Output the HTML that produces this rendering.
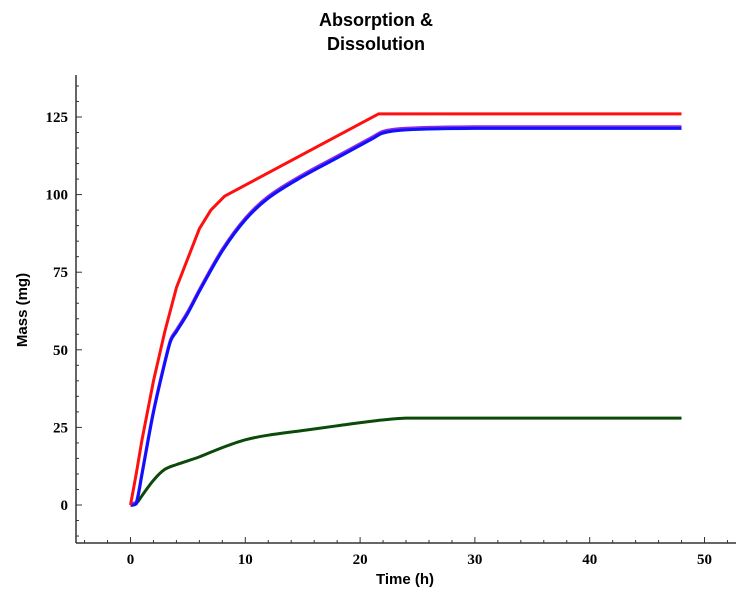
<!DOCTYPE html>
<html><head><meta charset="utf-8"><style>
body{margin:0;background:#fff;}
svg{display:block;font-family:"Liberation Sans",sans-serif;}
</style></head><body>
<svg id="chart" width="750" height="598">
<text x="376" y="26" text-anchor="middle" font-weight="bold" font-size="18">Absorption &amp;</text>
<text x="376" y="50" text-anchor="middle" font-weight="bold" font-size="18">Dissolution</text>
<text x="405" y="584" text-anchor="middle" font-weight="bold" font-size="15">Time (h)</text>
<text transform="translate(27,310) rotate(-90)" text-anchor="middle" font-weight="bold" font-size="15">Mass (mg)</text>
<g id="axes"></g><g id="series"></g>
</svg>
<script>
const xTicks=[0,10,20,30,40,50];
const yTicks=[0,25,50,75,100,125];
const redT=[0,0.5,1,2,3,4,6,7,8.2,21.6,48];
const redV=[0,10,21,40,56,70,89,95,99.5,126,126];
const blueT=[0,0.5,1,2,3,3.5,4,5,6,8,10,12,15,18,21,22,24,30,48];
const blueV=[0,0.5,10,30,46,53,56,62,69,82,92,99,106,112,118,120,121,121.5,121.5];
const greenT=[0,0.5,1,2,3,4,6,8,10,12,15,18,21,24,30,48];
const greenV=[0,0.5,3,8,11.5,13,15.5,18.5,21,22.5,24,25.5,27,28,28,28];
const NS="http://www.w3.org/2000/svg";
const X=t=>130.5+t*11.48;
const Y=v=>505-v*3.104;
const axes=document.getElementById('axes'),series=document.getElementById('series');
function mk(tag,a,p){const e=document.createElementNS(NS,tag);for(const k in a)e.setAttribute(k,a[k]);p.appendChild(e);return e;}
let e=mk('line',{x1:76,y1:543,x2:736,y2:543,stroke:'#333','stroke-width':1.5},axes);


e=mk('line',{x1:76,y1:75,x2:76,y2:543,stroke:'#333','stroke-width':1.5},axes);


for(let t=-4;t<=52;t+=2){const maj=t%10===0;mk('line',{x1:X(t),y1:543,x2:X(t),y2:maj?537:540,stroke:'#333'},axes);}
for(let v=-10;v<=135;v+=5){const maj=v%25===0;mk('line',{x1:76,y1:Y(v),x2:maj?82:79,y2:Y(v),stroke:'#333'},axes);}
xTicks.forEach(t=>{const l=mk('text',{x:X(t),y:564,'text-anchor':'middle','font-size':15,'font-weight':'bold','font-family':'Liberation Serif,serif'},axes);l.textContent=t;

});
yTicks.forEach(v=>{const l=mk('text',{x:68,y:Y(v)+5,'text-anchor':'end','font-size':15,'font-weight':'bold','font-family':'Liberation Serif,serif'},axes);l.textContent=v;

});
const cl=(v,a,b)=>Math.min(Math.max(v,Math.min(a,b)),Math.max(a,b));
function line(T,V,color,w,name,dy,smooth){
const P=T.map((t,i)=>[X(t),Y(V[i])+dy]);
let d='M'+P[0][0].toFixed(1)+','+P[0][1].toFixed(1);
for(let i=1;i<P.length;i++){
if(!smooth){d+='L'+P[i][0].toFixed(1)+','+P[i][1].toFixed(1);continue;}
const p0=P[Math.max(0,i-2)],p1=P[i-1],p2=P[i],p3=P[Math.min(P.length-1,i+1)];
const s1=(p2[1]-p0[1])/(p2[0]-p0[0]||1),s2=(p3[1]-p1[1])/(p3[0]-p1[0]||1);
const dx=(p2[0]-p1[0])/3;
const c1=[p1[0]+dx,cl(p1[1]+s1*dx,p1[1],p2[1])],c2=[p2[0]-dx,cl(p2[1]-s2*dx,p1[1],p2[1])];
d+='C'+c1.map(n=>n.toFixed(1))+' '+c2.map(n=>n.toFixed(1))+' '+p2[0].toFixed(1)+','+p2[1].toFixed(1);}
const p=mk('path',{d:d,fill:'none',stroke:color,'stroke-width':w,'stroke-linejoin':'round'},series);

}
line(greenT,greenV,'#0b4a0b',3,'series-green',0,true);
line(blueT,blueV,'#8a2be2',3,'series-purple',-1.2,true);
line(blueT,blueV,'#1010ff',3,'series-blue',0.5,true);
line(redT,redV,'#ff1010',3,'series-red',0,false);
</script>
</body></html>
